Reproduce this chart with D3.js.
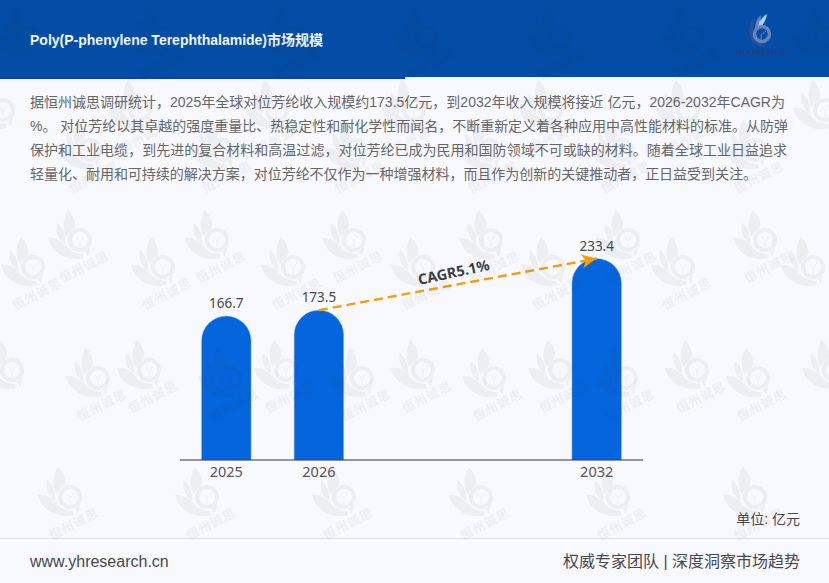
<!DOCTYPE html>
<html><head><meta charset="utf-8">
<script src="https://cdn.jsdelivr.net/npm/d3@7/dist/d3.min.js"></script>
<style>html,body{margin:0;padding:0;background:#f8f9fe}svg{display:block}</style>
</head><body><svg id="c" width="829" height="583"></svg>
<script>
const categories = ["2025","2026","gap1","gap2","2032"];
const years = ["2025","2026","2032"];
const values = [166.7,173.5,233.4];
const cagrLabel = "CAGR5.1%";
const titleText = "Poly(P-phenylene Terephthalamide)市场规模";
const bodyLines = [
 "据恒州诚思调研统计，2025年全球对位芳纶收入规模约173.5亿元，到2032年收入规模将接近 亿元，2026-2032年CAGR为",
 "%。 对位芳纶以其卓越的强度重量比、热稳定性和耐化学性而闻名，不断重新定义着各种应用中高性能材料的标准。从防弹",
 "保护和工业电缆，到先进的复合材料和高温过滤，对位芳纶已成为民用和国防领域不可或缺的材料。随着全球工业日益追求",
 "轻量化、耐用和可持续的解决方案，对位芳纶不仅作为一种增强材料，而且作为创新的关键推动者，正日益受到关注。"
];
const bodyWidths = [755,758,757,727];
const unitText = "单位: 亿元", siteText = "www.yhresearch.cn", sloganText = "权威专家团队 | 深度洞察市场趋势";
const wmText = "恒州诚思", logoText = "YH RESEARCH";

const svg = d3.select("#c");
const CJK = "'Liberation Sans','Noto Sans CJK SC',sans-serif";
const NUM = "'Noto Sans',sans-serif";
svg.append("rect").attr("width",829).attr("height",583).attr("fill","#f8f9fe");

// header
svg.append("rect").attr("width",829).attr("height",77).attr("fill","#034da6");
svg.append("rect").attr("y",77).attr("width",405).attr("height",2).attr("fill","#0a3fc4");
svg.append("text").attr("x",30).attr("y",44.5).attr("font-family",CJK).attr("font-size",14)
  .attr("textLength",293).attr("lengthAdjust","spacing")
  .attr("font-weight",700).attr("fill","#f4f7fc").text(titleText);

// body
svg.append("g").selectAll("text").data(bodyLines).join("text")
  .attr("x",30).attr("y",(d,i)=>107+i*24)
  .attr("textLength",(d,i)=>bodyWidths[i]).attr("lengthAdjust","spacing")
  .attr("font-family",CJK).attr("font-size",14).attr("fill","#666").text(d=>d);

// scales
const x = d3.scaleBand().domain(categories).range([180,643]).paddingInner(0.46).paddingOuter(0.23);
const y = d3.scaleLinear().domain([0,233.4]).range([460,258.5]);
const keyed = years.map((k,i)=>({k,v:values[i]}));
const cx = k => x(k)+x.bandwidth()/2;

// bars
svg.append("g").selectAll("path").data(keyed).join("path")
  .attr("fill","#0565dd").attr("stroke","#8db6ee").attr("stroke-opacity",.5).attr("stroke-width",.8)
  .attr("d",d=>{
    const w=49.5,r=w/2,c=cx(d.k),b=y(0),t=y(d.v),p=d3.path();
    p.moveTo(c-r,b);p.lineTo(c-r,t+r);p.arc(c,t+r,r,Math.PI,0);p.lineTo(c+r,b);p.closePath();return p.toString();
  });

// axis
const axis = svg.append("g").attr("transform","translate(0,459.5)")
  .call(d3.axisBottom(x).tickValues(years).tickSize(0).tickPadding(7.5));
axis.select(".domain").attr("stroke","#333").attr("stroke-width",1).attr("d","M180,0.5H643");
axis.selectAll("text").attr("font-family",NUM).attr("font-size",14.5).attr("fill","#555");

// value labels
svg.append("g").selectAll("text").data(keyed).join("text")
  .attr("x",d=>cx(d.k)).attr("y",d=>y(d.v)-8).attr("text-anchor","middle")
  .attr("font-family",NUM).attr("font-size",13.5).attr("fill","#484848").text(d=>d.v);

// CAGR arrow
const x0=cx("2026"), y0=y(173.5), x1=cx("2032"), y1=y(233.4);
const ang=Math.atan2(y1-y0,x1-x0)*180/Math.PI;
const defs=svg.append("defs");
defs.append("marker").attr("id","ah").attr("markerUnits","userSpaceOnUse").attr("markerWidth",18).attr("markerHeight",14)
  .attr("refX",15).attr("refY",7).attr("orient","auto")
  .append("path").attr("d","M0,0L15,7L0,14L4,7Z").attr("fill","#f59e0b");
svg.append("line").attr("x1",x0).attr("y1",y0).attr("x2",x1).attr("y2",y1)
  .attr("stroke","#f59e0b").attr("stroke-width",2.4).attr("stroke-dasharray","9 5").attr("marker-end","url(#ah)");
svg.append("text").attr("transform",`translate(${(x0+x1)/2-3},${(y0+y1)/2-7}) rotate(${ang-1.5})`)
  .attr("text-anchor","middle").attr("font-family",NUM).attr("font-weight",700)
  .attr("font-size",14.5).attr("fill","#3a3f47").text(cagrLabel);

// header logo
const logo = svg.append("g").attr("transform","translate(762,34)");
logo.append("path").attr("d","M-7,-17C-14,-11 -15,3 -7,10C-3,13 1,14 4,12C-4,10 -9,5 -9,-2C-9,-8 -8,-12 -7,-17Z").attr("fill","#2c4f99");
logo.append("path").attr("d","M-1,-19C-6,-15 -8,-8 -6,-3C-3,-8 -1,-13 -1,-19Z").attr("fill","#5f86cc");
logo.append("path").attr("d","M5,-20C0,-17 -4,-12 -4,-6C-1,-6 4,-12 5,-20Z").attr("fill","#a8cbf2");
logo.append("circle").attr("r",7.5).attr("fill","none").attr("stroke","#6b84b8").attr("stroke-width",3.5);
logo.append("path").attr("d","M-1,1L4,-3M-1,1L-1,6").attr("fill","none").attr("stroke","#6b84b8");
svg.append("text").attr("x",761).attr("y",55).attr("text-anchor","middle").attr("font-family",CJK)
  .attr("font-weight",700).attr("font-size",7.4).attr("textLength",53).attr("fill","#24408c").text(logoText);

// footer
svg.append("line").attr("x1",0).attr("x2",829).attr("y1",538.5).attr("y2",538.5).attr("stroke","#dcdde2");
svg.append("text").attr("x",800).attr("y",524).attr("text-anchor","end").attr("font-family",CJK).attr("font-size",14).attr("fill","#484848").text(unitText);
svg.append("text").attr("x",30).attr("y",567).attr("font-family",CJK).attr("font-size",16).attr("fill","#484848").text(siteText);
svg.append("text").attr("x",800).attr("y",567).attr("text-anchor","end").attr("font-family",CJK).attr("font-size",16).attr("fill","#484848").text(sloganText);

// watermarks: staggered repeat pattern over everything
const wmLeaves = "M-12,-30C-6,-24 -3,-16 -6,-11C-9,-9 -12,-6 -13.5,-3C-18,-11 -17,-23 -12,-30Z"
 +"M-23,-17C-18,-13 -15,-7 -15,1C-15,2 -15,3 -14.5,4C-21,0 -25,-8 -23,-17Z"
 +"M-32,-2C-26,-3 -19,0 -14,6C-9,12 -3,14 3,14L4,18C-12,22 -28,14 -32,-2Z";
const wmRing = "M-12,0a12,12 0 1,0 24,0a12,12 0 1,0 -24,0ZM-8,0a8,8 0 1,1 16,0a8,8 0 1,1 -16,0Z"
 +"M4,10L10,8L8,17Z";
const rows=[[37,27,133],[110,3,137],[150,90,133],[240,80,137],[267,33,130],[370,12,137],[378,98,132],[497,70,137]];
const tiles=rows.flatMap(([ry,x0,p])=>d3.range(x0-p,880,p).map(c=>[c,ry]));
const wm=svg.append("g").attr("pointer-events","none").selectAll("g").data(tiles).join("g")
  .attr("transform",d=>`translate(${d[0]},${d[1]})`).attr("opacity",.05).attr("fill","#333");
wm.append("path").attr("d",wmLeaves);
wm.append("path").attr("fill-rule","evenodd").attr("d",wmRing);
wm.append("path").attr("d","M0,1L4,-4M0,1L-3,-3M0,1L0,7").attr("fill","none").attr("stroke","#333").attr("stroke-width",.8);
wm.filter(d=>d[0]>28 && d[0]<790).append("text").attr("transform","translate(6,31) rotate(-27)").attr("text-anchor","middle")
  .attr("font-family","'Noto Sans CJK SC',sans-serif").attr("font-weight",700).attr("font-size",12.5).attr("letter-spacing",1).text(wmText);
</script></body></html>
